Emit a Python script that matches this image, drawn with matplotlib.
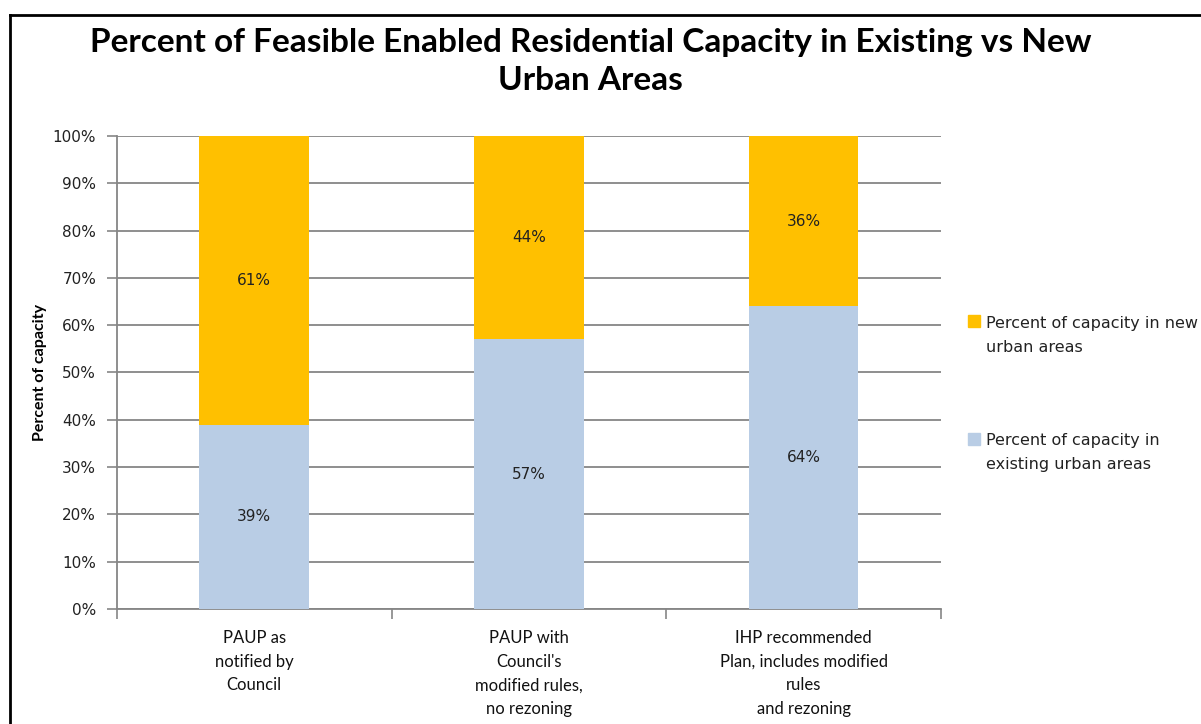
import numpy as np
import matplotlib.pyplot as plt
from matplotlib.lines import Line2D
from matplotlib.ticker import FuncFormatter

# Chart data
categories = ["PAUP as\nnotified by\nCouncil",
              "PAUP with\nCouncil's\nmodified rules,\nno rezoning",
              "IHP recommended\nPlan, includes modified\nrules\nand rezoning"]
existing_pct = [39, 57, 64]
new_pct = [61, 44, 36]
series_names = ["Percent of capacity in new\nurban areas",
                "Percent of capacity in\nexisting urban areas"]

blue = "#B9CDE5"
orange = "#FFC000"
grid_col = "#868686"

fig = plt.figure(figsize=(12.01, 7.24), dpi=100)
ax = fig.add_axes([0.0974, 0.159, 0.686, 0.653])

x = np.arange(len(categories))
ax.bar(x, existing_pct, width=0.4, color=blue, zorder=3)
ax.bar(x, new_pct, width=0.4, bottom=existing_pct, color=orange, zorder=3)

# data labels in the middle of each segment
for i in range(len(categories)):
    ax.text(x[i], existing_pct[i] / 2, f"{existing_pct[i]}%", ha="center", va="center",
            fontsize=11, color="#222222", zorder=4)
    ax.text(x[i], min(existing_pct[i] + new_pct[i], 100) - (100 - existing_pct[i]) / 2,
            f"{new_pct[i]}%", ha="center", va="center", fontsize=11, color="#222222", zorder=4)

ax.set_xlim(-0.5, len(categories) - 0.5)
ax.set_ylim(0, 100)
ax.set_yticks(np.arange(0, 101, 10))
ax.yaxis.set_major_formatter(FuncFormatter(lambda v, p: f"{int(v)}%"))
ax.tick_params(axis="y", length=7, width=1.2, color=grid_col, labelsize=11,
               labelcolor="#222222", pad=8)
ax.yaxis.grid(True, color=grid_col, linewidth=1.3, zorder=0)

# category boundary ticks on x axis, labels centred on the bars
ax.set_xticks(np.arange(-0.5, len(categories), 1.0))
ax.set_xticklabels([])
ax.tick_params(axis="x", length=7, width=1.2, color=grid_col)
ax.set_xticks(x, minor=True)
ax.set_xticklabels(categories, minor=True, fontfamily="Lato", fontsize=12,
                   linespacing=1.6, color="#111111", va="top")
ax.tick_params(axis="x", which="minor", length=0, pad=15)

for s in ["top", "right"]:
    ax.spines[s].set_visible(False)
for s in ["left", "bottom"]:
    ax.spines[s].set_color(grid_col)
    ax.spines[s].set_linewidth(1.3)

ax.set_ylabel("Percent of capacity", fontfamily="Lato", fontweight="bold",
              fontsize=11.5, labelpad=4)

fig.text(0.492, 0.915, "Percent of Feasible Enabled Residential Capacity in Existing vs New\nUrban Areas",
         ha="center", va="center", fontfamily="Lato", fontweight="bold", fontsize=24,
         linespacing=1.36)

handles = [Line2D([], [], marker="s", linestyle="none", markersize=8,
                  markerfacecolor=orange, markeredgecolor=orange),
           Line2D([], [], marker="s", linestyle="none", markersize=8,
                  markerfacecolor=blue, markeredgecolor=blue)]
leg = fig.legend(handles, series_names, loc="center left", bbox_to_anchor=(0.8, 0.456),
                 frameon=False, fontsize=11.5, labelspacing=4.9, handlelength=0.6,
                 handletextpad=0.5, borderpad=0)
for t in leg.get_texts():
    t.set_linespacing(1.75)
    t.set_color("#222222")

# put the legend squares next to the first text line, as Excel does
try:
    for column in leg._legend_handle_box.get_children():
        for item in column.get_children():
            item.align = "top"
except AttributeError:
    pass

# frame lines along top and left of the picture
fig.add_artist(Line2D([10 / 1201, 1], [1 - 15 / 724, 1 - 15 / 724], color="black", linewidth=2))
fig.add_artist(Line2D([10 / 1201, 10 / 1201], [0, 1 - 15 / 724], color="black", linewidth=2))

fig.savefig("out.png", dpi=100)
